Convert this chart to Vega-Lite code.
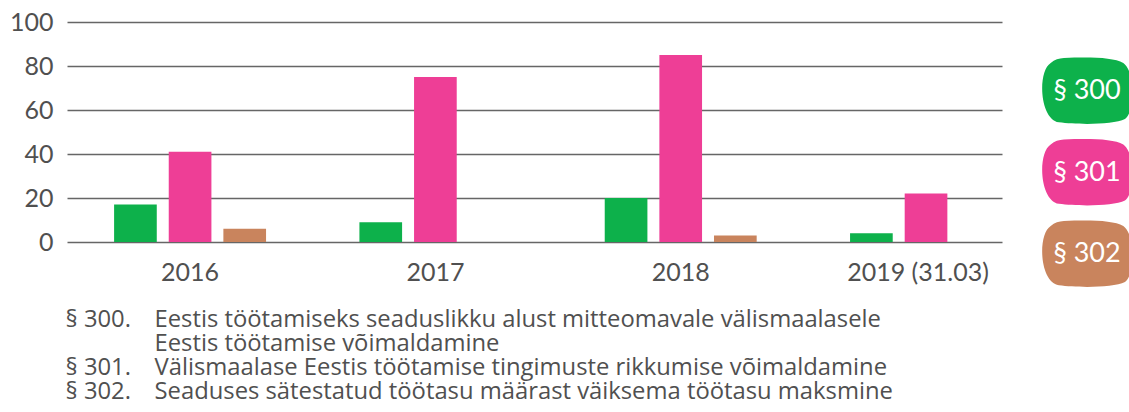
{
  "$schema": "https://vega.github.io/schema/vega-lite/v6.json",
  "width": 935,
  "height": 220,
  "autosize": {"type": "none"},
  "padding": {"left": 67, "top": 22, "right": 127, "bottom": 170},
  "background": "#ffffff",
  "data": {
    "values": [
      {"year": "2016", "para": "§ 300", "value": 17},
      {"year": "2016", "para": "§ 301", "value": 41},
      {"year": "2016", "para": "§ 302", "value": 6},
      {"year": "2017", "para": "§ 300", "value": 9},
      {"year": "2017", "para": "§ 301", "value": 75},
      {"year": "2017", "para": "§ 302", "value": 0},
      {"year": "2018", "para": "§ 300", "value": 20},
      {"year": "2018", "para": "§ 301", "value": 85},
      {"year": "2018", "para": "§ 302", "value": 3},
      {"year": "2019 (31.03)", "para": "§ 300", "value": 4},
      {"year": "2019 (31.03)", "para": "§ 301", "value": 22},
      {"year": "2019 (31.03)", "para": "§ 302", "value": 0}
    ]
  },
  "mark": {"type": "bar"},
  "encoding": {
    "x": {
      "field": "year",
      "type": "nominal",
      "sort": ["2016", "2017", "2018", "2019 (31.03)"],
      "scale": {"paddingInner": 0.3806, "paddingOuter": 0.096, "align": 1},
      "axis": {
        "labelAngle": 0,
        "labelFontSize": 25,
        "labelColor": "#505050",
        "labelPadding": 18,
        "labelOffset": {"condition": {"test": "datum.value === '2019 (31.03)'", "value": -8}, "value": 0},
        "ticks": false,
        "domain": false,
        "title": [
          "Eestis töötamiseks seaduslikku alust mitteomavale välismaalasele",
          "Eestis töötamise võimaldamine",
          "Välismaalase Eestis töötamise tingimuste rikkumise võimaldamine",
          "Seaduses sätestatud töötasu määrast väiksema töötasu maksmine"
        ],
        "titleX": 87,
        "titleY": 84,
        "titleAlign": "left",
        "titleAnchor": "start",
        "titleBaseline": "alphabetic",
        "titleFont": "Open Sans",
        "titleFontSize": 23.8,
        "titleLineHeight": 24,
        "titleFontWeight": "normal",
        "titleColor": "#505050"
      }
    },
    "xOffset": {
      "field": "para",
      "type": "nominal",
      "scale": {"paddingInner": 0.219, "paddingOuter": 0}
    },
    "y": {
      "field": "value",
      "type": "quantitative",
      "scale": {"domain": [0, 100], "nice": false},
      "axis": {
        "values": [0, 20, 40, 60, 80, 100],
        "labelFontSize": 25,
        "labelColor": "#505050",
        "labelPadding": 14,
        "ticks": false,
        "domain": false,
        "grid": true,
        "gridColor": "#666666",
        "gridWidth": 1.4,
        "title": ["§ 300.", "\u200b", "§ 301.", "§ 302."],
        "titleAngle": 0,
        "titleX": -2,
        "titleY": 304,
        "titleAlign": "left",
        "titleAnchor": "start",
        "titleBaseline": "alphabetic",
        "titleFont": "Open Sans",
        "titleFontSize": 23.8,
        "titleLineHeight": 24,
        "titleFontWeight": "normal",
        "titleColor": "#505050"
      }
    },
    "color": {
      "field": "para",
      "type": "nominal",
      "scale": {
        "domain": ["§ 300", "§ 301", "§ 302"],
        "range": ["#0db14b", "#ee3e96", "#c9845d"]
      },
      "legend": {
        "orient": "none",
        "legendX": 987,
        "legendY": 36,
        "title": null,
        "padding": 0,
        "symbolType": "M -0.7 -1 C 0.1 -1.03 0.8 -1.02 1.1 -0.85 C 1.45 -0.6 1.5 0.55 1.15 0.85 C 0.8 1.03 -0.3 1.02 -0.85 0.95 C -1.45 0.85 -1.5 -0.6 -1.1 -0.85 C -0.98 -0.95 -0.85 -0.99 -0.7 -1 Z",
        "symbolSize": 4356,
        "symbolStrokeWidth": 0,
        "symbolOpacity": 1,
        "labelAlign": "center",
        "labelOffset": -33,
        "labelColor": "#ffffff",
        "labelFontSize": 27,
        "labelLimit": 200,
        "rowPadding": 14.5
      }
    }
  },
  "config": {
    "font": "Lato",
    "view": {"stroke": null}
  }
}
